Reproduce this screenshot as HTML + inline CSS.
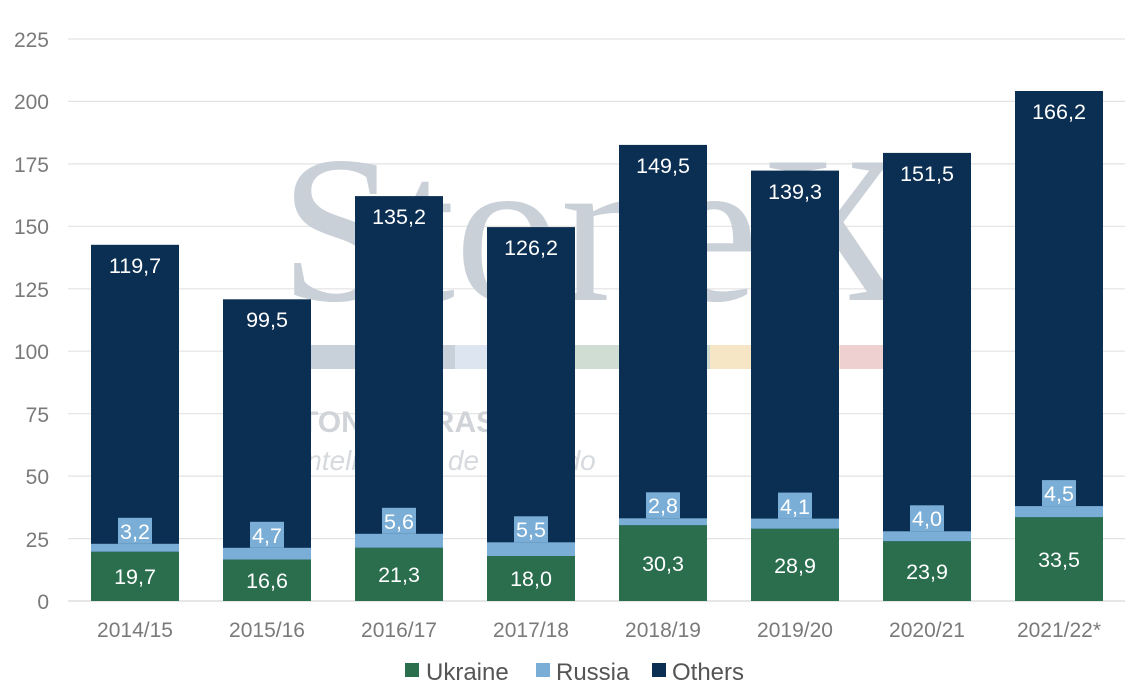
<!DOCTYPE html>
<html><head><meta charset="utf-8"><style>
html,body{margin:0;padding:0;background:#fff}
svg{display:block;font-family:"Liberation Sans",sans-serif}
.ax{fill:#7a7a7a;font-size:21px}
.v{fill:#fff;font-size:21.5px;text-anchor:middle}
</style></head><body>
<svg width="1145" height="689" viewBox="0 0 1145 689">
<g stroke="#e3e3e3" stroke-width="1.2">
<line x1="68" x2="1125" y1="39" y2="39"/><line x1="68" x2="1125" y1="101.4" y2="101.4"/>
<line x1="68" x2="1125" y1="163.9" y2="163.9"/><line x1="68" x2="1125" y1="226.3" y2="226.3"/>
<line x1="68" x2="1125" y1="288.8" y2="288.8"/><line x1="68" x2="1125" y1="351.2" y2="351.2"/>
<line x1="68" x2="1125" y1="413.7" y2="413.7"/><line x1="68" x2="1125" y1="476.1" y2="476.1"/>
<line x1="68" x2="1125" y1="538.6" y2="538.6"/><line x1="68" x2="1125" y1="601" y2="601" stroke="#d6d6d6"/>
</g>
<g class="ax" text-anchor="end">
<text x="49" y="47">225</text><text x="49" y="109">200</text><text x="49" y="172">175</text>
<text x="49" y="234">150</text><text x="49" y="297">125</text><text x="49" y="359">100</text>
<text x="49" y="422">75</text><text x="49" y="484">50</text><text x="49" y="547">25</text><text x="49" y="609">0</text>
</g>
<text x="280" y="300" font-family="Liberation Serif,serif" font-size="210" fill="#c9d0d8">StoneX</text>
<rect x="310" y="345" width="145" height="24" fill="#c8d0da"/>
<rect x="455" y="345" width="120" height="24" fill="#dde6f0"/>
<rect x="575" y="345" width="135" height="24" fill="#d0ddd2"/>
<rect x="710" y="345" width="130" height="24" fill="#f6e6c6"/>
<rect x="840" y="345" width="45" height="24" fill="#efd0d0"/>
<text x="300" y="432" font-size="30" fill="#d0d4d9" font-weight="bold">TONEX BRASIL</text>
<text x="300" y="470" font-size="28" fill="#d6d9dd" font-style="italic">inteligência de mercado</text>
<g id="bars">
<rect x="91" y="244.8" width="88" height="356.2" fill="#0b2f52"/><rect x="91" y="543.8" width="88" height="8" fill="#7aaed6"/><rect x="91" y="551.8" width="88" height="49.2" fill="#2a6e4e"/>
<rect x="223" y="299.3" width="88" height="301.7" fill="#0b2f52"/><rect x="223" y="547.8" width="88" height="11.7" fill="#7aaed6"/><rect x="223" y="559.5" width="88" height="41.5" fill="#2a6e4e"/>
<rect x="355" y="196.1" width="88" height="404.9" fill="#0b2f52"/><rect x="355" y="533.8" width="88" height="14" fill="#7aaed6"/><rect x="355" y="547.8" width="88" height="53.2" fill="#2a6e4e"/>
<rect x="487" y="227.1" width="88" height="373.9" fill="#0b2f52"/><rect x="487" y="542.3" width="88" height="13.7" fill="#7aaed6"/><rect x="487" y="556" width="88" height="45" fill="#2a6e4e"/>
<rect x="619" y="144.9" width="88" height="456.1" fill="#0b2f52"/><rect x="619" y="518.3" width="88" height="7" fill="#7aaed6"/><rect x="619" y="525.3" width="88" height="75.7" fill="#2a6e4e"/>
<rect x="751" y="170.6" width="88" height="430.4" fill="#0b2f52"/><rect x="751" y="518.6" width="88" height="10.2" fill="#7aaed6"/><rect x="751" y="528.8" width="88" height="72.2" fill="#2a6e4e"/>
<rect x="883" y="152.9" width="88" height="448.1" fill="#0b2f52"/><rect x="883" y="531.3" width="88" height="10" fill="#7aaed6"/><rect x="883" y="541.3" width="88" height="59.7" fill="#2a6e4e"/>
<rect x="1015" y="91" width="88" height="510" fill="#0b2f52"/><rect x="1015" y="506.1" width="88" height="11.2" fill="#7aaed6"/><rect x="1015" y="517.3" width="88" height="83.7" fill="#2a6e4e"/>
</g>
<g fill="#7aaed6">
<rect x="118" y="517.8" width="34" height="26"/><rect x="250" y="521.8" width="34" height="26"/>
<rect x="382" y="507.8" width="34" height="26"/><rect x="514" y="516.3" width="34" height="26"/>
<rect x="646" y="492.3" width="34" height="26"/><rect x="778" y="492.6" width="34" height="26"/>
<rect x="910" y="505.3" width="34" height="26"/><rect x="1042" y="480.1" width="34" height="26"/>
</g>
<g class="v">
<text x="135" y="273">119,7</text><text x="267" y="327">99,5</text><text x="399" y="224">135,2</text><text x="531" y="255">126,2</text>
<text x="663" y="173">149,5</text><text x="795" y="199">139,3</text><text x="927" y="181">151,5</text><text x="1059" y="119">166,2</text>
<text x="135" y="539">3,2</text><text x="267" y="543">4,7</text><text x="399" y="529">5,6</text><text x="531" y="537">5,5</text>
<text x="663" y="513">2,8</text><text x="795" y="514">4,1</text><text x="927" y="526">4,0</text><text x="1059" y="501">4,5</text>
<text x="135" y="584">19,7</text><text x="267" y="588">16,6</text><text x="399" y="582">21,3</text><text x="531" y="586">18,0</text>
<text x="663" y="571">30,3</text><text x="795" y="573">28,9</text><text x="927" y="579">23,9</text><text x="1059" y="567">33,5</text>
</g>
<g class="ax" text-anchor="middle">
<text x="135" y="637">2014/15</text><text x="267" y="637">2015/16</text><text x="399" y="637">2016/17</text><text x="531" y="637">2017/18</text>
<text x="663" y="637">2018/19</text><text x="795" y="637">2019/20</text><text x="927" y="637">2020/21</text><text x="1059" y="637">2021/22*</text>
</g>
<rect x="405" y="663" width="14" height="14" fill="#2a6e4e"/><text x="426" y="680" font-size="24" fill="#555">Ukraine</text>
<rect x="536" y="663" width="14" height="14" fill="#7aaed6"/><text x="556" y="680" font-size="24" fill="#555">Russia</text>
<rect x="652" y="663" width="14" height="14" fill="#0b2f52"/><text x="672" y="680" font-size="24" fill="#555">Others</text>
</svg>
</body></html>
